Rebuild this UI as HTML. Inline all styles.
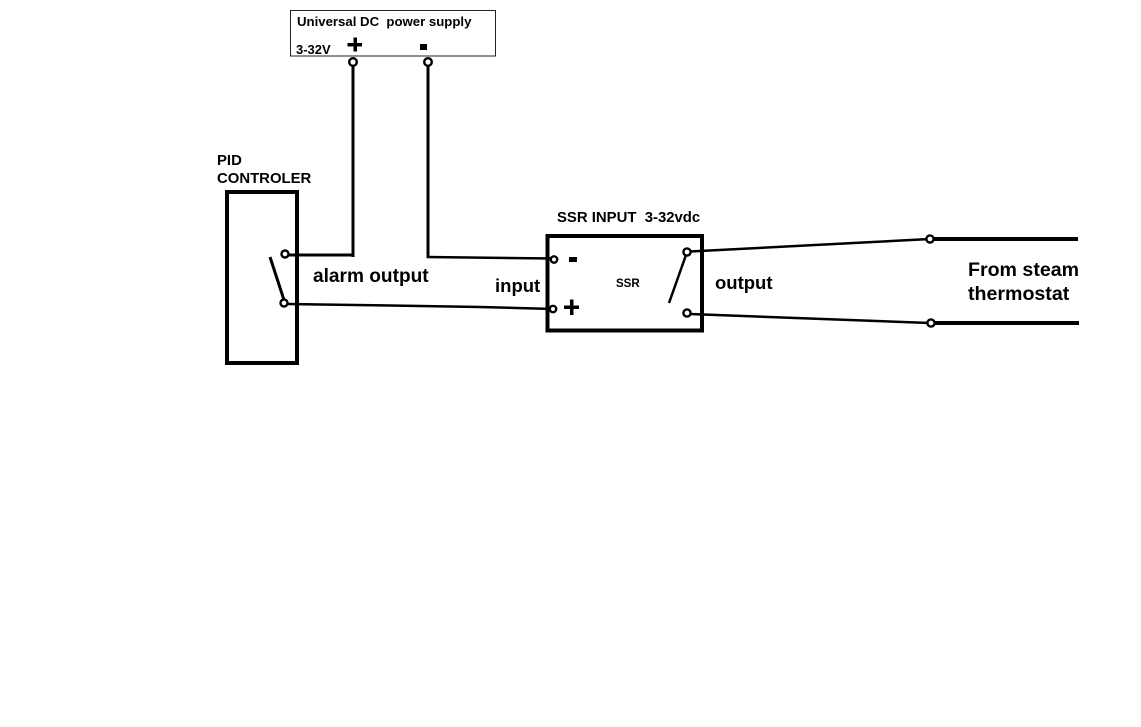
<!DOCTYPE html>
<html>
<head>
<meta charset="utf-8">
<style>
  html, body { margin: 0; padding: 0; background: #fff; }
  svg { display: block; }
  text { font-family: "Liberation Sans", Arial, sans-serif; font-weight: bold; fill: #000; }
</style>
</head>
<body>
<svg width="1141" height="727" viewBox="0 0 1141 727" xmlns="http://www.w3.org/2000/svg">
  <rect x="0" y="0" width="1141" height="727" fill="#fff"/>

  <!-- Power supply box -->
  <rect x="290.5" y="10.5" width="205" height="45.5" fill="none" stroke="#222" stroke-width="1"/>
  <text x="297" y="26" font-size="13.2">Universal DC&#160; power supply</text>
  <text x="296" y="54" font-size="13">3-32V</text>
  <rect x="347.5" y="43" width="14.5" height="3.5" fill="#000"/>
  <rect x="353.5" y="37.5" width="3.5" height="14" fill="#000"/>
  <rect x="420" y="44" width="7" height="6" fill="#000"/>

  <!-- PSU wires -->
  <line x1="353" y1="65" x2="353" y2="257" stroke="#000" stroke-width="3"/>
  <line x1="428" y1="65" x2="428" y2="258" stroke="#000" stroke-width="3"/>
  <circle cx="353" cy="62" r="3.8" fill="#fff" stroke="#000" stroke-width="2.4"/>
  <circle cx="428" cy="62" r="3.8" fill="#fff" stroke="#000" stroke-width="2.4"/>

  <!-- PID controller -->
  <text x="217" y="165" font-size="14.9">PID</text>
  <text x="217" y="183" font-size="14.9">CONTROLER</text>
  <rect x="227" y="192" width="70" height="171" fill="none" stroke="#000" stroke-width="4"/>
  <line x1="270" y1="257" x2="284" y2="300" stroke="#000" stroke-width="3"/>

  <!-- wires from PID -->
  <line x1="288" y1="255" x2="354" y2="255" stroke="#000" stroke-width="3"/>
  <polyline points="288,304 320,304.5 390,305.5 480,307 553,309" fill="none" stroke="#000" stroke-width="2.5"/>
  <circle cx="285" cy="254" r="3.5" fill="#fff" stroke="#000" stroke-width="2.4"/>
  <circle cx="284" cy="303" r="3.5" fill="#fff" stroke="#000" stroke-width="2.4"/>
  <text x="313" y="282" font-size="19.1">alarm output</text>

  <!-- minus wire to SSR -->
  <line x1="427" y1="257" x2="553" y2="258.5" stroke="#000" stroke-width="2.5"/>

  <!-- SSR -->
  <text x="557" y="222" font-size="14.9">SSR INPUT&#160; 3-32vdc</text>
  <rect x="547.5" y="236" width="154.5" height="94.5" fill="none" stroke="#000" stroke-width="4"/>
  <circle cx="554" cy="259.5" r="3.2" fill="#fff" stroke="#000" stroke-width="2.4"/>
  <circle cx="553" cy="309" r="3.2" fill="#fff" stroke="#000" stroke-width="2.4"/>
  <rect x="569" y="257" width="8" height="5" fill="#000"/>
  <rect x="570" y="299.5" width="3.5" height="15.5" fill="#000"/>
  <rect x="564" y="305.5" width="15" height="3.5" fill="#000"/>
  <text x="616" y="287" font-size="11.5">SSR</text>
  <text x="495" y="292" font-size="18.5">input</text>
  <line x1="686" y1="255" x2="669" y2="303" stroke="#000" stroke-width="2.5"/>

  <!-- output wires -->
  <line x1="690" y1="251.5" x2="930" y2="239" stroke="#000" stroke-width="2.5"/>
  <line x1="690" y1="314" x2="930" y2="323" stroke="#000" stroke-width="2.5"/>
  <line x1="930" y1="239" x2="1078" y2="239" stroke="#000" stroke-width="4"/>
  <line x1="930" y1="323" x2="1079" y2="323" stroke="#000" stroke-width="4"/>
  <circle cx="687" cy="252" r="3.6" fill="#fff" stroke="#000" stroke-width="2.4"/>
  <circle cx="687" cy="313" r="3.6" fill="#fff" stroke="#000" stroke-width="2.4"/>
  <circle cx="930" cy="239" r="3.6" fill="#fff" stroke="#000" stroke-width="2.4"/>
  <circle cx="931" cy="323" r="3.6" fill="#fff" stroke="#000" stroke-width="2.4"/>
  <text x="715" y="289" font-size="18.5">output</text>

  <text x="968" y="276" font-size="19.6">From steam</text>
  <text x="968" y="300" font-size="19.6">thermostat</text>
</svg>
</body>
</html>
